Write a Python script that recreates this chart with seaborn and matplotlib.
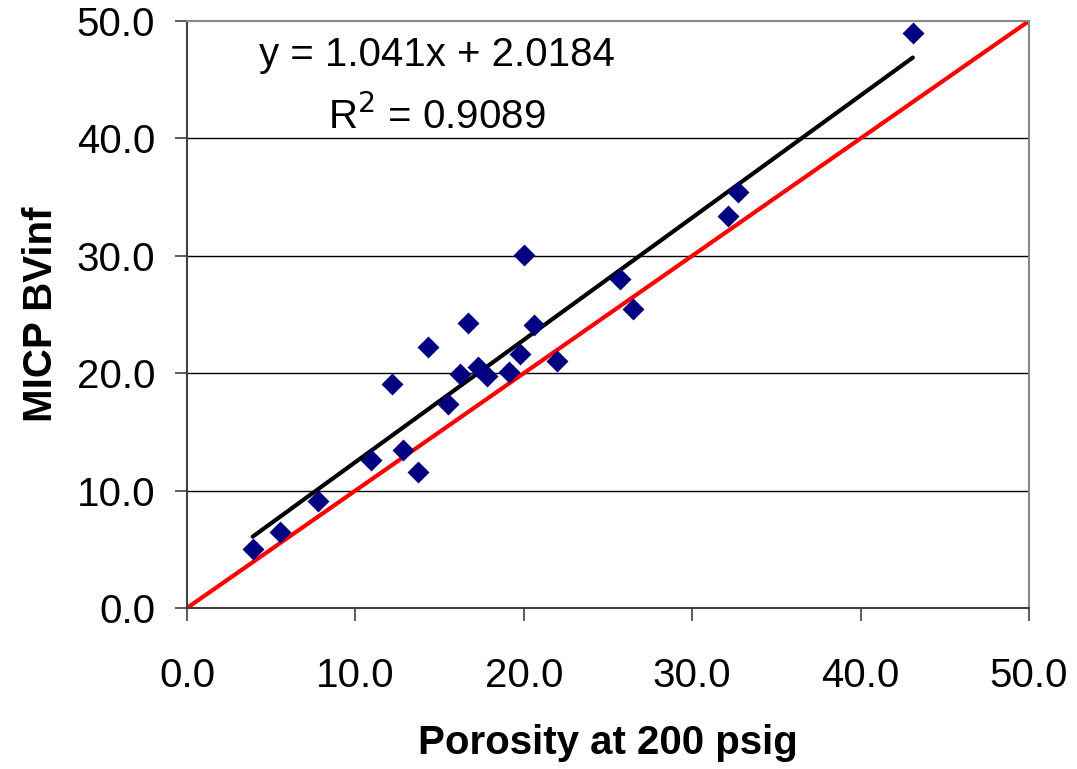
import matplotlib
matplotlib.use("Agg")
import matplotlib.pyplot as plt
import seaborn as sns
import numpy as np
import pandas as pd

porosity = [3.9, 5.5, 7.8, 10.9, 12.2, 12.8, 13.7, 14.3, 15.5, 16.2, 16.7, 17.3,
            17.8, 19.1, 19.8, 20.0, 20.6, 22.0, 25.7, 26.5, 32.1, 32.7, 43.1]
bvinf = [5.0, 6.5, 9.1, 12.6, 19.1, 13.5, 11.6, 22.2, 17.4, 19.9, 24.3, 20.5,
         19.8, 20.1, 21.6, 30.1, 24.1, 21.0, 28.0, 25.5, 33.4, 35.4, 49.0]
slope = 1.041
intercept = 2.0184
r2 = 0.9089
ticks = [0, 10, 20, 30, 40, 50]

df = pd.DataFrame({"x": porosity, "y": bvinf})

sns.set_theme(style="white")
plt.rcParams['font.family'] = ['Liberation Sans', 'DejaVu Sans']
plt.rcParams['text.color'] = 'black'
plt.rcParams['axes.labelcolor'] = 'black'
plt.rcParams['xtick.color'] = 'black'
plt.rcParams['ytick.color'] = 'black'

FS = 29

fig = plt.figure(figsize=(10.77, 7.69), dpi=100)
ax = fig.add_axes([187/1077, 1-608/769, (1029-187)/1077, (608-21)/769])

# horizontal gridlines
for t in ticks[1:-1]:
    ax.axhline(t, color='black', lw=1.0, zorder=0)

# 1:1 line
ident = pd.DataFrame({"x": [0, 50], "y": [0, 50]})
sns.lineplot(data=ident, x="x", y="y", color='#ff0000', lw=3.0, ax=ax, zorder=2)

# trend line
xmin, xmax = min(porosity), max(porosity)
trend = pd.DataFrame({"x": [xmin, xmax], "y": [slope*xmin+intercept, slope*xmax+intercept]})
sns.lineplot(data=trend, x="x", y="y", color='black', lw=3.0, ax=ax, zorder=3,
             solid_capstyle='round')

sns.scatterplot(data=df, x="x", y="y", marker='D', s=125, color='#000080',
                edgecolor='#000080', linewidth=0, ax=ax, zorder=4)

ax.set_xlim(0, 50)
ax.set_ylim(0, 50)
ax.set_xticks(ticks)
ax.set_yticks(ticks)
ax.set_xticklabels([f"{t:.1f}" for t in ticks], fontsize=FS)
ax.set_yticklabels([f"{t:.1f}" for t in ticks], fontsize=FS)
ax.tick_params(axis='both', direction='out', length=9, width=1.2, color='#404040',
               labelcolor='black', bottom=True, left=True)
ax.tick_params(axis='x', pad=26)
ax.tick_params(axis='y', pad=14)
for name, s in ax.spines.items():
    s.set_linewidth(1.5)
    s.set_color('#404040' if name in ('left', 'bottom') else '#888888')

ax.set_xlabel("Porosity at 200 psig", fontsize=FS, fontweight='bold', labelpad=21)
ax.set_ylabel("MICP BVinf", fontsize=FS, fontweight='bold', labelpad=12)

ax.text(437/1077, 1-55/769, f"y = {slope}x + {intercept}", transform=fig.transFigure,
        fontsize=FS, ha='center', va='center')
ax.text(437/1077, 1-116/769, f"R$^2$ = {r2}", transform=fig.transFigure,
        fontsize=FS, ha='center', va='center')

fig.savefig("out.png", dpi=100)
